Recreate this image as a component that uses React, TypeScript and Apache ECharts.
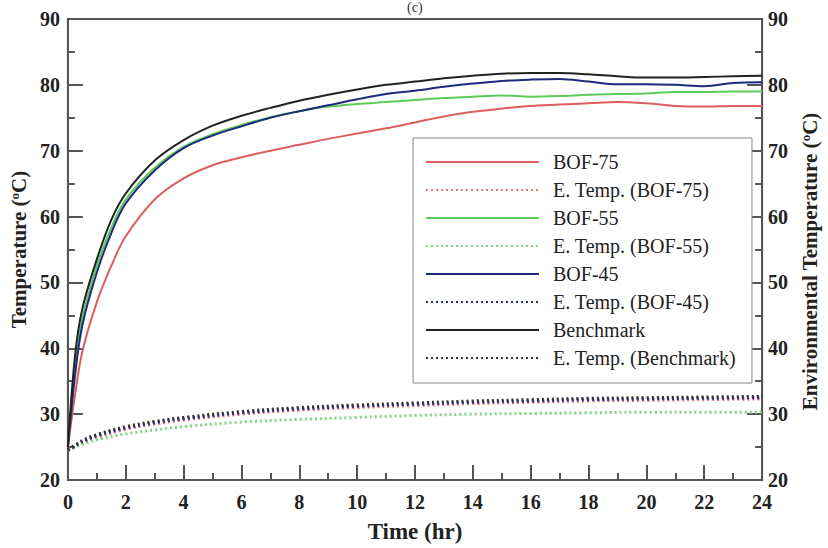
import React, { useEffect, useRef } from "react";
import * as echarts from "echarts";

// Hydration temperature over 24 h for three BOF mixes and the benchmark
const timeHr = [0, 0.25, 0.5, 1, 1.5, 2, 3, 4, 5, 6, 7, 8, 9, 10, 11, 12, 13, 14, 15, 16, 17, 18, 19, 20, 21, 22, 23, 24];
const bof75 = [25, 33, 39.5, 47, 52.5, 57, 62.6, 65.8, 67.8, 69.0, 70.0, 70.9, 71.8, 72.6, 73.4, 74.3, 75.2, 75.9, 76.4, 76.8, 77.0, 77.2, 77.4, 77.2, 76.8, 76.7, 76.8, 76.8];
const bof55 = [25, 37, 44.5, 52.5, 58.3, 62.6, 67.4, 70.6, 72.5, 73.9, 75.1, 76.0, 76.7, 77.1, 77.4, 77.7, 78.0, 78.2, 78.4, 78.2, 78.3, 78.5, 78.6, 78.7, 78.9, 78.9, 79.0, 79.0];
const bof45 = [25, 36, 43.5, 51.5, 57.5, 62, 67, 70.4, 72.3, 73.7, 75.0, 76.0, 76.9, 77.8, 78.6, 79.1, 79.7, 80.2, 80.6, 80.8, 80.9, 80.5, 80.1, 80.1, 80.0, 79.8, 80.3, 80.4];
const benchmark = [25, 39, 46, 53.5, 59.5, 63.5, 68.5, 71.6, 73.8, 75.3, 76.5, 77.6, 78.5, 79.3, 80.0, 80.5, 81.0, 81.4, 81.7, 81.8, 81.8, 81.6, 81.3, 81.1, 81.1, 81.2, 81.3, 81.4];

// Environmental temperature readings
const envTimeHr = [0, 0.5, 1, 2, 3, 4, 6, 8, 10, 12, 14, 16, 18, 20, 22, 24];
const envBof75 = [24.4, 25.6, 26.5, 27.7, 28.5, 29.1, 30.0, 30.6, 31.0, 31.3, 31.6, 31.8, 32.0, 32.1, 32.2, 32.3];
const envBof55 = [24.5, 25.4, 26.1, 27.0, 27.6, 28.1, 28.8, 29.2, 29.5, 29.8, 30.0, 30.1, 30.2, 30.3, 30.3, 30.3];
const envBof45 = [24.5, 25.8, 26.7, 27.9, 28.7, 29.3, 30.2, 30.8, 31.2, 31.5, 31.8, 32.0, 32.2, 32.3, 32.4, 32.5];
const envBenchmark = [24.6, 26.0, 26.9, 28.1, 28.9, 29.5, 30.4, 31.0, 31.4, 31.7, 32.0, 32.2, 32.4, 32.5, 32.6, 32.7];

const legendNames = [
  "BOF-75",
  "E. Temp. (BOF-75)",
  "BOF-55",
  "E. Temp. (BOF-55)",
  "BOF-45",
  "E. Temp. (BOF-45)",
  "Benchmark",
  "E. Temp. (Benchmark)",
];

const xTicks = { min: 0, max: 24, interval: 2 };
const yTicks = { min: 20, max: 90, interval: 10 };

const SERIF = "Liberation Serif";
const AXIS_COLOR = "#555";

const pairs = (xs: number[], ys: number[]) => xs.map((x, i) => [x, ys[i]]);

export default function App() {
  const ref = useRef<HTMLDivElement>(null);

  useEffect(() => {
    if (!ref.current) return;
    const chart = echarts.init(ref.current, undefined, { renderer: "svg" });

    const tickLabel = { fontFamily: SERIF, fontWeight: "bold" as const, fontSize: 20, color: "#222" };
    const nameRich = {
      a: { fontFamily: SERIF, fontWeight: "bold" as const, fontSize: 21, color: "#222" },
      s: { fontFamily: SERIF, fontWeight: "bold" as const, fontSize: 13, color: "#222", verticalAlign: "top" as const },
    };
    const legendText = { fontFamily: SERIF, fontSize: 20, lineHeight: 20, color: "#222", padding: [0, 0, 0, 9] };

    const yAxisBase = {
      type: "value" as const,
      min: yTicks.min,
      max: yTicks.max,
      interval: yTicks.interval,
      nameLocation: "middle" as const,
      nameRotate: 90,
      axisLine: { show: true, lineStyle: { color: AXIS_COLOR, width: 2 } },
      axisTick: { show: true, inside: true, length: 15, lineStyle: { color: AXIS_COLOR, width: 2 } },
      minorTick: { show: true, splitNumber: 2, length: 7, lineStyle: { color: AXIS_COLOR, width: 2 } },
      splitLine: { show: false },
      minorSplitLine: { show: false },
    };

    const solid = (name: string, ys: number[], color: string) => ({
      name,
      type: "line" as const,
      data: pairs(timeHr, ys),
      smooth: 0.35,
      showSymbol: false,
      symbol: "none",
      yAxisIndex: 0,
      lineStyle: { color, width: 2 },
      itemStyle: { color },
      z: 3,
    });

    const dotted = (name: string, ys: number[], color: string) => ({
      name,
      type: "line" as const,
      data: pairs(envTimeHr, ys),
      smooth: 0.35,
      showSymbol: false,
      symbol: "none",
      yAxisIndex: 1,
      lineStyle: { color, width: 3, type: [2, 3] },
      itemStyle: { color },
      z: 2,
    });

    chart.setOption({
      animation: false,
      backgroundColor: "#fff",
      graphic: [
        {
          type: "text",
          x: 407,
          y: 0,
          style: { text: "(c)", fontFamily: SERIF, fontSize: 14, fill: "#333" },
        },
      ],
      grid: {
        left: 65,
        right: 61,
        top: 19,
        bottom: 62,
        show: true,
        borderColor: AXIS_COLOR,
        borderWidth: 2,
      },
      legend: {
        orient: "vertical",
        left: 413,
        top: 138,
        selectedMode: false,
        itemWidth: 113,
        itemHeight: 14,
        itemGap: 8,
        padding: [14, 16, 15, 12],
        borderColor: "#888",
        borderWidth: 1,
        backgroundColor: "#fff",
        itemStyle: { opacity: 0 },
        textStyle: legendText,
        data: legendNames.map((name) => ({ name, textStyle: legendText })),
      },
      xAxis: {
        type: "value",
        min: xTicks.min,
        max: xTicks.max,
        interval: xTicks.interval,
        name: "Time (hr)",
        nameLocation: "middle",
        nameGap: 40,
        nameTextStyle: { fontFamily: SERIF, fontWeight: "bold", fontSize: 23, color: "#222" },
        axisLine: { show: true, lineStyle: { color: AXIS_COLOR, width: 2 } },
        axisTick: { show: true, inside: true, length: 15, lineStyle: { color: AXIS_COLOR, width: 2 } },
        minorTick: { show: true, splitNumber: 2, length: 7, lineStyle: { color: AXIS_COLOR, width: 2 } },
        axisLabel: { ...tickLabel, margin: 12 },
        splitLine: { show: false },
        minorSplitLine: { show: false },
      },
      yAxis: [
        {
          ...yAxisBase,
          position: "left",
          name: "{a|Temperature (}{s|o}{a|C)}",
          nameGap: 36,
          nameTextStyle: { rich: nameRich },
          axisLabel: { ...tickLabel, margin: 8 },
        },
        {
          ...yAxisBase,
          position: "right",
          name: "{a|Environmental Temperature (}{s|o}{a|C)}",
          nameGap: 32,
          nameTextStyle: { rich: nameRich, padding: [0, 24, 0, 0] },
          axisLabel: { ...tickLabel, margin: 6 },
        },
      ],
      series: [
        solid(legendNames[0], bof75, "#dd5e5e"),
        dotted(legendNames[1], envBof75, "#e27a7a"),
        solid(legendNames[2], bof55, "#5ccb5c"),
        dotted(legendNames[3], envBof55, "#7fd67f"),
        solid(legendNames[4], bof45, "#1d2a7e"),
        dotted(legendNames[5], envBof45, "#2b2f8a"),
        solid(legendNames[6], benchmark, "#222222"),
        dotted(legendNames[7], envBenchmark, "#333333"),
      ],
    });

    return () => chart.dispose();
  }, []);

  return (
    <div
      ref={ref}
      style={{ position: "absolute", left: 0, top: 0, width: 828, height: 548, background: "#fff" }}
    />
  );
}
